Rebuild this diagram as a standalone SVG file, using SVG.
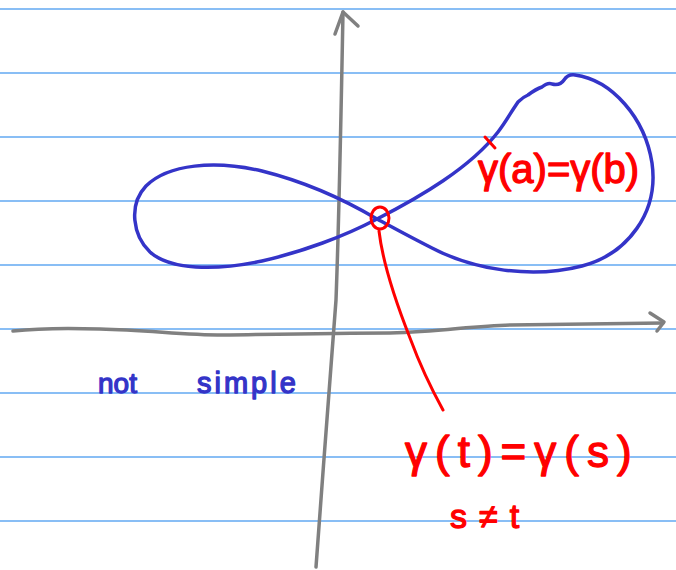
<svg xmlns="http://www.w3.org/2000/svg" width="676" height="570" viewBox="0 0 676 570">
<style>
.rule{stroke:#62a8f2;stroke-width:1.5}
.ax{fill:none;stroke:#808080;stroke-width:3.5;stroke-linecap:round;stroke-linejoin:round}
.blue{fill:none;stroke:#3434c8;stroke-width:3.5;stroke-linecap:round;stroke-linejoin:round}
.red{fill:none;stroke:#ff0000;stroke-width:3;stroke-linecap:round;stroke-linejoin:round}
.rt{fill:#ff0000;stroke:#ff0000;stroke-width:1.3;stroke-linejoin:round;font-family:"Liberation Sans",Arial,sans-serif}
.bt{fill:#3434c8;stroke:#3434c8;stroke-width:1.3;stroke-linejoin:round;font-family:"Liberation Sans",Arial,sans-serif}
</style>
<rect width="676" height="570" fill="#ffffff"/>
<g id="rules">
<line class="rule" x1="0" y1="9" x2="676" y2="9"/>
<line class="rule" x1="0" y1="73" x2="676" y2="73"/>
<line class="rule" x1="0" y1="137" x2="676" y2="137"/>
<line class="rule" x1="0" y1="201" x2="676" y2="201"/>
<line class="rule" x1="0" y1="265" x2="676" y2="265"/>
<line class="rule" x1="0" y1="329" x2="676" y2="329"/>
<line class="rule" x1="0" y1="393" x2="676" y2="393"/>
<line class="rule" x1="0" y1="457" x2="676" y2="457"/>
<line class="rule" x1="0" y1="521" x2="676" y2="521"/>
</g>
<g id="axes">
<path class="ax" d="M316,567 C 322,480 332,360 336,300 C 339,220 341,120 343,12"/>
<path class="ax" d="M335,34 L343,12 L358,26"/>
<path class="ax" d="M13,331 C 40,328 70,328 100,329 C 150,330 190,336 230,335 C 290,334 340,333 390,333 C 440,332 470,326 510,325 C 570,324 620,324 663,323"/>
<path class="ax" d="M650,313 L664,322 L657,331"/>
</g>
<g id="curve">
<path class="blue" d="M377,219 C 350,203 310,183 262,171 C 215,160 168,164 146,186 C 128,205 133,236 150,252 C 170,270 215,271 262,261 C 302,252 345,236 377,219 C 420,197 470,168 498,132 C 505,123 510,114 514,108 L 518,102 Q 523,97 528,95 Q 536,89 542,87 Q 548,82 552,84 Q 560,86 564,80 Q 568,74 575,75 C 612,80 645,118 652,163 C 659,212 628,254 582,266 C 532,279 474,270 432,248 C 410,237 392,227 377,219 Z"/>
</g>
<g id="annotations">
<ellipse class="red" cx="380" cy="218" rx="9" ry="11"/>
<path class="red" d="M379,231 C 383,265 395,300 410,338 C 420,365 432,390 443,410"/>
<path class="red" d="M485,137 L495,148"/>
<text class="rt" x="478" y="183" font-size="40">γ(a)=γ(b)</text>
<text class="rt" x="405" y="467" font-size="44" letter-spacing="8">γ(t)=γ(s)</text>
<text class="rt" x="450" y="528" font-size="34" letter-spacing="12">s≠t</text>
<text class="bt" x="98" y="393" font-size="28">not</text>
<text class="bt" x="197" y="393" font-size="29" letter-spacing="3">simple</text>
</g>
</svg>
